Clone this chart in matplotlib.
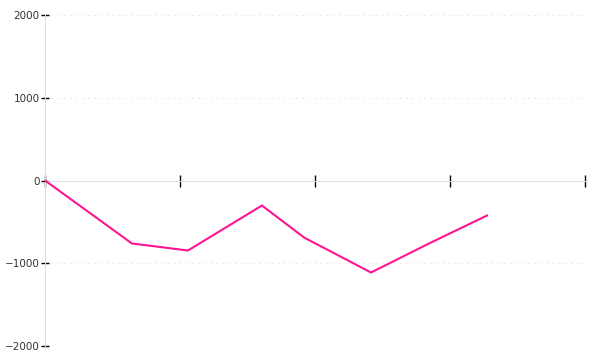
import matplotlib
matplotlib.use("Agg")
import matplotlib.pyplot as plt

# data (x in tick units, y values)
x_vals = [0, 0.644, 1.059, 1.607, 1.919, 2.415, 2.83, 3.274]
y_vals = [0, -761, -846, -302, -689, -1112, -773, -423]
x_ticks = [0, 1, 2, 3, 4]
y_ticks = [-2000, -1000, 0, 1000, 2000]

fig = plt.figure(figsize=(6, 3.6), dpi=100)
ax = fig.add_axes([0.075, 0.0389, 0.9, 0.9194])

ax.plot(x_vals, y_vals, color="#ff1493", linewidth=1.5, zorder=3)

ax.set_xlim(0, 4)
ax.set_ylim(-2000, 2000)
ax.set_xticks(x_ticks)
ax.set_xticklabels([])
ax.set_yticks(y_ticks)
ax.set_yticklabels([str(v).replace("-", "\u2212") for v in y_ticks])

# light dotted horizontal grid
for v in y_ticks:
    if v != 0:
        ax.axhline(v, color="#e8e8e8", linewidth=0.8, linestyle=(0, (1.5, 4)), zorder=1)

for s in ["top", "right"]:
    ax.spines[s].set_visible(False)
ax.spines["left"].set_color("#dddddd")
ax.spines["bottom"].set_color("#dddddd")
ax.spines["bottom"].set_position(("data", 0))

ax.tick_params(axis="x", direction="inout", length=8, width=1, color="black")
ax.tick_params(axis="y", direction="inout", length=5.5, width=1, color="black",
               labelsize=7.5, labelcolor="#333333", pad=1)

fig.savefig("out.png", dpi=100)
